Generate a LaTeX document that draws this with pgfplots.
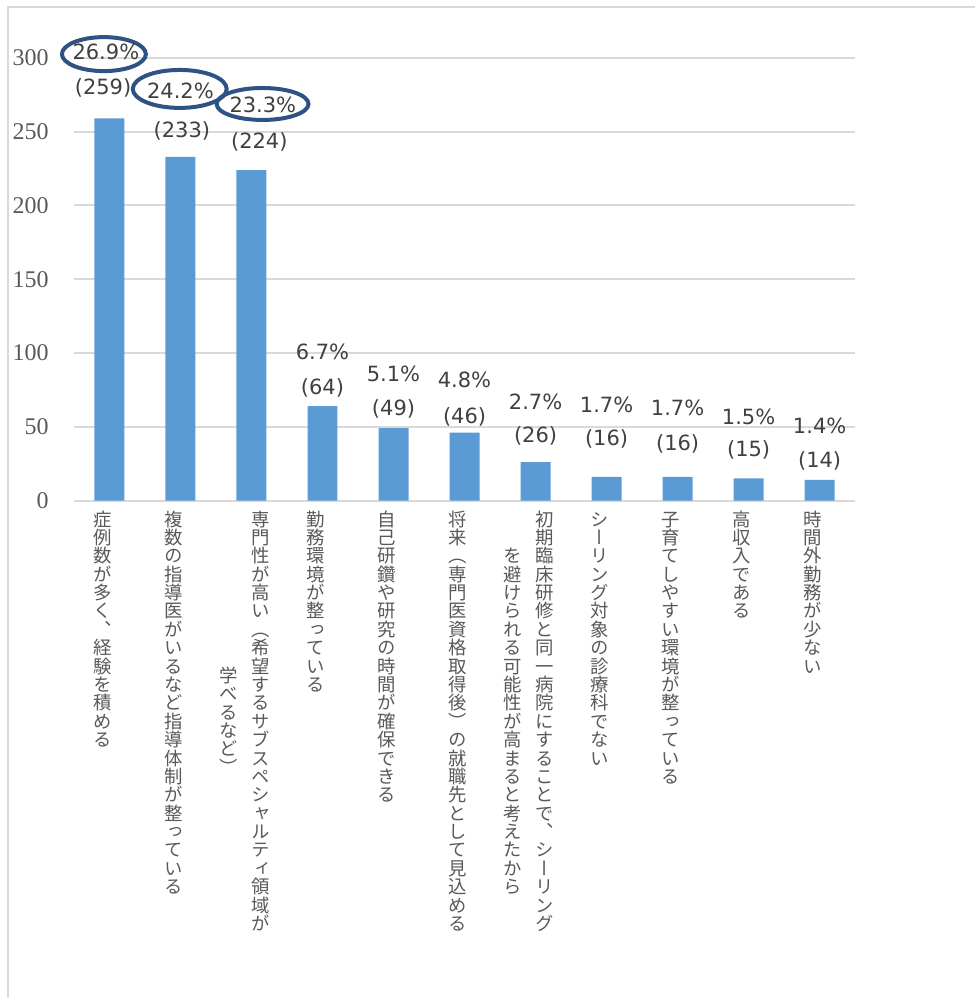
\documentclass[border=0pt]{standalone}
\usepackage{pgfplots}
\pgfplotsset{compat=1.18}
\usepackage{pgfplotstable}
\usepackage{fontspec}
\setmainfont{DejaVu Sans}
\newfontfamily\serifnum{Liberation Serif}
\newfontfamily\cjkv[RawFeature={vertical;+vert}]{Noto Sans CJK JP}
\definecolor{barblue}{HTML}{5B9BD5}
\definecolor{gridgray}{HTML}{D9D9D9}
\definecolor{txtgray}{HTML}{404040}
\definecolor{axgray}{HTML}{595959}
\definecolor{ringblue}{HTML}{2F5285}

% x, count
\pgfplotstableread{
x n
0 259
1 233
2 224
3 64
4 49
5 46
6 26
7 16
8 16
9 15
10 14
}\counts

% label positions (axis units): percent and count lines
\pgfplotstableread{
xp yp pct xc yc cnt
-0.05 304.0 26.9\% -0.09 279.6 (259)
1.00 278.0 24.2\% 1.02 250.5 (233)
2.16 268.0 23.3\% 2.11 243.0 (224)
3.00 100.9 6.7\% 3.00 76.5 (64)
4.00 86.0 5.1\% 4.00 62.3 (49)
5.00 81.9 4.8\% 5.00 56.9 (46)
6.00 67.0 2.7\% 6.00 44.0 (26)
7.00 65.0 1.7\% 7.00 42.0 (16)
8.00 63.0 1.7\% 8.00 38.6 (16)
9.00 56.9 1.5\% 9.00 34.5 (15)
10.00 50.8 1.4\% 10.00 27.1 (14)
}\labels

\begin{document}
\begin{tikzpicture}
\begin{axis}[
  scale only axis, width=391pt, height=221.5pt,
  xmin=-0.5, xmax=10.5, ymin=0, ymax=300,
  ytick={0,50,...,300},
  xtick={0,...,10},
  xticklabels={
    {症例数が多く、経験を積める},
    {複数の指導医がいるなど指導体制が整っている},
    {専門性が高い（希望するサブスペシャルティ領域が\\学べるなど）},
    {勤務環境が整っている},
    {自己研鑽や研究の時間が確保できる},
    {将来（専門医資格取得後）の就職先として見込める},
    {初期臨床研修と同一病院にすることで、シーリング\\を避けられる可能性が高まると考えたから},
    {シーリング対象の診療科でない},
    {子育てしやすい環境が整っている},
    {高収入である},
    {時間外勤務が少ない}},
  x tick label style={rotate=-90, anchor=west, align=center,
    font=\cjkv\fontsize{9.2pt}{16pt}\selectfont, text=axgray, inner xsep=4.5pt, inner ysep=0pt},
  y tick label style={font=\serifnum\fontsize{12pt}{14pt}\selectfont, text=axgray,
    anchor=east, inner sep=0pt, xshift=-12.5pt},
  /pgf/number format/assume math mode=true,
  major tick length=0pt,
  ymajorgrids, grid style={gridgray, line width=1pt},
  axis y line*=left, y axis line style={draw=none},
  axis x line*=bottom, x axis line style={gridgray, line width=1pt},
  clip=false,
]
\addplot[ybar, bar width=15pt, fill=barblue, draw=none] table[x=x, y=n] {\counts};
\addplot[draw=none, mark=none, nodes near coords, point meta=explicit symbolic,
  every node near coord/.style={anchor=center, font=\fontsize{10.5pt}{12pt}\selectfont, text=txtgray}]
  table[x=xp, y=yp, meta=pct] {\labels};
\addplot[draw=none, mark=none, nodes near coords, point meta=explicit symbolic,
  every node near coord/.style={anchor=center, font=\fontsize{10.5pt}{12pt}\selectfont, text=txtgray}]
  table[x=xc, y=yc, meta=cnt] {\labels};
\draw[ringblue, line width=2pt] (-0.078,302.6) ellipse[x radius=21pt, y radius=8.5pt];
\draw[ringblue, line width=2pt] (0.99,279) ellipse[x radius=23.5pt, y radius=9.5pt];
\draw[ringblue, line width=2pt] (2.156,268.8) ellipse[x radius=23pt, y radius=8pt];
\coordinate (sw) at (rel axis cs:0,0);
\end{axis}
\draw[gridgray, line width=1pt] ([shift={(-33pt,-249pt)}]sw) -- ([shift={(-33pt,247pt)}]sw) -- ([shift={(451pt,247pt)}]sw);
\path[use as bounding box] ([shift={(-37pt,-249pt)}]sw) rectangle ([shift={(451pt,250.5pt)}]sw);
\end{tikzpicture}
\end{document}
